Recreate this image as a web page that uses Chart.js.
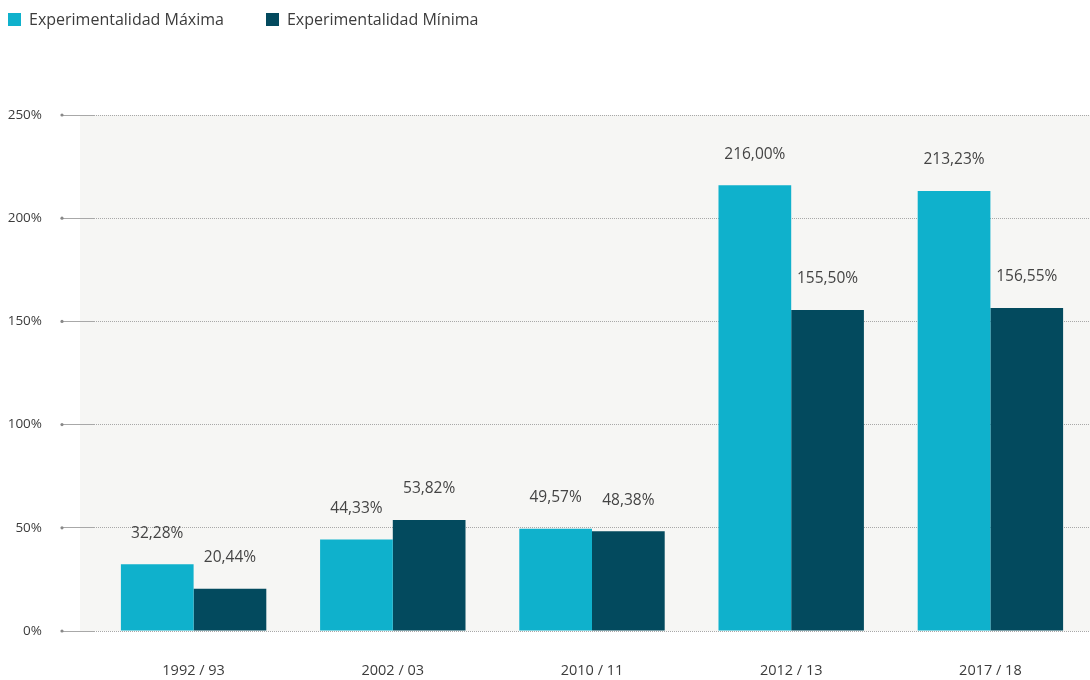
<!DOCTYPE html>
<html>
<head>
<meta charset="utf-8">
<script src="https://cdn.jsdelivr.net/npm/chart.js@4"></script>
<style>
    html, body { margin: 0; padding: 0; background: #fff; }
    #wrap { position: relative; width: 1090px; height: 680px; }
    #legend {
        position: absolute; top: 8px; left: 8px;
        font-family: 'Open Sans', sans-serif; font-size: 16px; color: #3c3c3c;
        display: flex; gap: 42px; line-height: 22px;
    }
    #legend span.item { display: flex; align-items: center; }
    #legend span.box { width: 13px; height: 13px; margin-right: 8px; display: inline-block; }
</style>
</head>
<body>
<div id="wrap">
    <canvas id="chart" width="1090" height="680"></canvas>
    <div id="legend"></div>
</div>
<script>
// Chart data
const categories = ['1992 / 93', '2002 / 03', '2010 / 11', '2012 / 13', '2017 / 18'];
const seriesNames = ['Experimentalidad Máxima', 'Experimentalidad Mínima'];
const maxValues = [32.28, 44.33, 49.57, 216.00, 213.23];
const minValues = [20.44, 53.82, 48.38, 155.50, 156.55];
const yTicks = [0, 50, 100, 150, 200, 250];

const colors = ['#0fb1cc', '#034a5e'];

// Legend (HTML)
const legendEl = document.getElementById('legend');
seriesNames.forEach((name, i) => {
    const item = document.createElement('span');
    item.className = 'item';
    item.innerHTML = `<span class="box" style="background:${colors[i]}"></span>${name}`;
    legendEl.appendChild(item);
});

const fmt = v => v.toFixed(2).replace('.', ',') + '%';

// Plot background + tick dots
const plotBackground = {
    id: 'plotBackground',
    beforeDraw(chart) {
        const { ctx, chartArea } = chart;
        ctx.save();
        ctx.fillStyle = '#f6f6f4';
        ctx.fillRect(chartArea.left - 14, chartArea.top, chartArea.right - chartArea.left + 14, chartArea.bottom - chartArea.top);
        ctx.restore();
    },
    afterDraw(chart) {
        const { ctx } = chart;
        const y = chart.scales.y;
        ctx.save();
        ctx.fillStyle = '#888';
        yTicks.forEach(t => {
            ctx.beginPath();
            ctx.arc(y.left + 62, y.getPixelForValue(t), 1.6, 0, Math.PI * 2);
            ctx.fill();
        });
        ctx.restore();
    }
};

// Value labels above bars
const valueLabels = {
    id: 'valueLabels',
    afterDatasetsDraw(chart) {
        const { ctx } = chart;
        ctx.save();
        ctx.font = '15.5px "Open Sans", sans-serif';
        ctx.fillStyle = '#444';
        ctx.textAlign = 'center';
        ctx.textBaseline = 'middle';
        chart.data.datasets.forEach((ds, di) => {
            chart.getDatasetMeta(di).data.forEach((bar, i) => {
                ctx.fillText(fmt(ds.data[i]), bar.x, bar.y - 31);
            });
        });
        ctx.restore();
    }
};

new Chart(document.getElementById('chart'), {
    type: 'bar',
    data: {
        labels: categories,
        datasets: [
            { label: seriesNames[0], data: maxValues, backgroundColor: colors[0] },
            { label: seriesNames[1], data: minValues, backgroundColor: colors[1] }
        ]
    },
    options: {
        responsive: false,
        animation: false,
        layout: { padding: { top: 115, right: 0, bottom: 0, left: 0 } },
        datasets: {
            bar: { categoryPercentage: 0.73, barPercentage: 1, borderWidth: 0 }
        },
        scales: {
            x: {
                afterFit(scale) { scale.height = 49; },
                grid: { display: false, drawTicks: false },
                border: { display: false },
                ticks: {
                    padding: 31,
                    color: '#3c3c3c',
                    font: { family: 'Open Sans', size: 14.5 }
                }
            },
            y: {
                min: 0,
                max: 250,
                afterFit(scale) { scale.width = 94; },
                afterBuildTicks(scale) { scale.ticks = yTicks.map(v => ({ value: v })); },
                grid: {
                    color: '#a8a8a8',
                    lineWidth: 1,
                    tickLength: 32,
                    tickColor: '#a8a8a8'
                },
                border: { display: false, dash: [1, 1] },
                ticks: {
                    padding: 20,
                    color: '#3c3c3c',
                    font: { family: 'Open Sans', size: 13.5 },
                    callback: v => v + '%'
                }
            }
        },
        plugins: {
            legend: { display: false },
            tooltip: { enabled: false }
        }
    },
    plugins: [plotBackground, valueLabels]
});
</script>
</body>
</html>
